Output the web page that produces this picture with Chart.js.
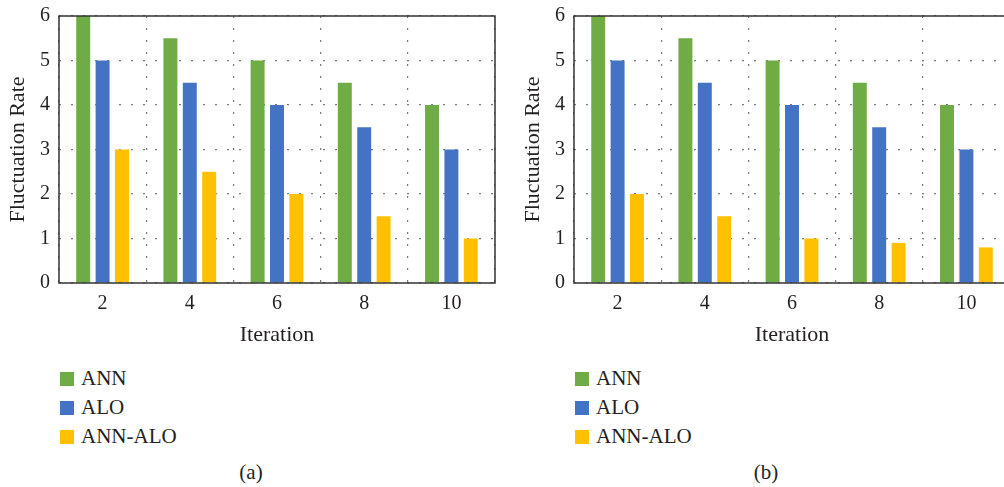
<!DOCTYPE html>
<html>
<head>
<meta charset="utf-8">
<script src="https://cdn.jsdelivr.net/npm/chart.js@4"></script>
<style>
    html, body { margin: 0; padding: 0; background: #fff; overflow: hidden; }
    body { width: 1004px; height: 487px; position: relative; font-family: "Liberation Serif", serif; color: #231f20; }
    .panel { position: absolute; top: 0; width: 502px; height: 487px; }
    .chart-box { position: absolute; left: 0; top: -5px; width: 502px; height: 355px; }
    .legend { position: absolute; left: 60px; top: 364px; }
    .legend-item { height: 29px; display: flex; align-items: center; font-size: 21px; }
    .legend-item span.swatch { width: 14px; height: 14px; margin-right: 7px; display: inline-block; }
    .caption { position: absolute; left: 0; width: 502px; top: 460px; text-align: center; font-size: 21px; }
</style>
</head>
<body>
<div class="panel" style="left:0">
    <div class="chart-box"><canvas id="chartA"></canvas></div>
    <div class="legend" id="legendA"></div>
    <div class="caption">(a)</div>
</div>
<div class="panel" style="left:515px">
    <div class="chart-box"><canvas id="chartB"></canvas></div>
    <div class="legend" id="legendB"></div>
    <div class="caption">(b)</div>
</div>
<script>
const iterations = ['2', '4', '6', '8', '10'];
const seriesNames = ['ANN', 'ALO', 'ANN-ALO'];
const seriesColors = ['#6fac46', '#4472c4', '#ffc000'];

// panel (a)
const annA = [6, 5.5, 5, 4.5, 4];
const aloA = [5, 4.5, 4, 3.5, 3];
const annAloA = [3, 2.5, 2, 1.5, 1];

// panel (b)
const annB = [6, 5.5, 5, 4.5, 4];
const aloB = [5, 4.5, 4, 3.5, 3];
const annAloB = [2, 1.5, 1, 0.9, 0.8];

const yTicks = [0, 1, 2, 3, 4, 5, 6];

const frame = {
    id: 'frame',
    afterDraw(chart) {
        const { ctx, chartArea: a } = chart;
        ctx.save();
        ctx.strokeStyle = '#333';
        ctx.lineWidth = 1.5;
        ctx.strokeRect(a.left, a.top, a.right - a.left, a.bottom - a.top);
        ctx.restore();
    }
};

function makeChart(id, values) {
    const ctx = document.getElementById(id).getContext('2d');
    return new Chart(ctx, {
        type: 'bar',
        data: {
            labels: iterations,
            datasets: values.map((v, i) => ({
                label: seriesNames[i],
                data: v,
                backgroundColor: seriesColors[i],
                categoryPercentage: 0.667,
                barPercentage: 0.72
            }))
        },
        options: {
            responsive: true,
            maintainAspectRatio: false,
            animation: false,
            layout: { padding: { top: 9, right: 7, left: 0, bottom: 0 } },
            plugins: {
                legend: { display: false },
                tooltip: { enabled: false }
            },
            scales: {
                x: {
                    grid: { color: '#7a7a7a', lineWidth: 1.2, drawTicks: false, offset: true },
                    border: { display: false, dash: [2, 10] },
                    ticks: { color: '#231f20', padding: 9, font: { family: 'Liberation Serif', size: 20 } },
                    title: {
                        display: true,
                        text: 'Iteration',
                        color: '#231f20',
                        padding: { top: 0, bottom: 2 },
                        font: { family: 'Liberation Serif', size: 22 }
                    },
                    afterFit(scale) { scale.height = 67; }
                },
                y: {
                    min: 0,
                    max: 6,
                    afterBuildTicks(scale) { scale.ticks = yTicks.map(v => ({ value: v })); },
                    grid: { color: '#7a7a7a', lineWidth: 1.2, drawTicks: false },
                    border: { display: false, dash: [2, 10] },
                    ticks: { color: '#231f20', padding: 9, font: { family: 'Liberation Serif', size: 20 } },
                    title: {
                        display: true,
                        text: 'Fluctuation Rate',
                        color: '#231f20',
                        padding: { top: 5, bottom: 0 },
                        font: { family: 'Liberation Serif', size: 22 }
                    },
                    afterFit(scale) { scale.width = 59; }
                }
            }
        },
        plugins: [frame]
    });
}

function makeLegend(id) {
    const el = document.getElementById(id);
    seriesNames.forEach((name, i) => {
        const row = document.createElement('div');
        row.className = 'legend-item';
        row.innerHTML = '<span class="swatch" style="background:' + seriesColors[i] + '"></span>' + name;
        el.appendChild(row);
    });
}

makeChart('chartA', [annA, aloA, annAloA]);
makeChart('chartB', [annB, aloB, annAloB]);
makeLegend('legendA');
makeLegend('legendB');
</script>
</body>
</html>
